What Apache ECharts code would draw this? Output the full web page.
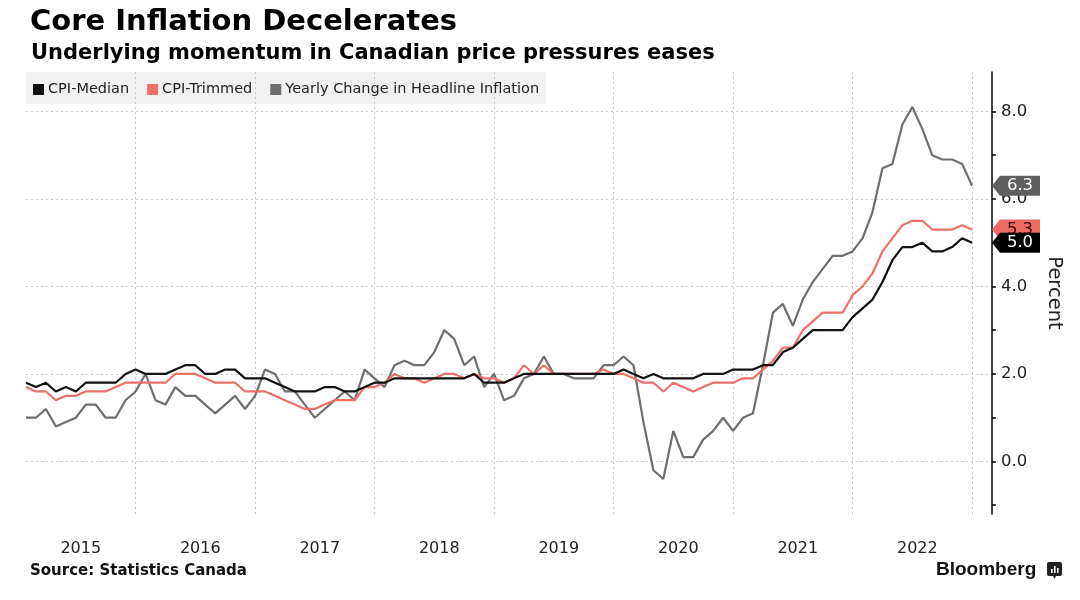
<!DOCTYPE html>
<html>
<head>
<meta charset="utf-8">
<title>Core Inflation Decelerates</title>
<script src="https://cdn.jsdelivr.net/npm/echarts@6/dist/echarts.min.js"></script>
<style>
  html, body { margin: 0; padding: 0; background: #fff; }
  #chart { width: 1080px; height: 600px; }
</style>
</head>
<body>
<div id="chart"></div>
<script>
// monthly readings Jan 2015 .. Dec 2022, plotted at month end (month no. 1 = Jan 2015)
var yearLabels = ['2015', '2016', '2017', '2018', '2019', '2020', '2021', '2022'];

var cpiMedian = [
    1.8, 1.7, 1.8, 1.6, 1.7, 1.6, 1.8, 1.8, 1.8, 1.8, 2.0, 2.1,
    2.0, 2.0, 2.0, 2.1, 2.2, 2.2, 2.0, 2.0, 2.1, 2.1, 1.9, 1.9,
    1.9, 1.8, 1.7, 1.6, 1.6, 1.6, 1.7, 1.7, 1.6, 1.6, 1.7, 1.8,
    1.8, 1.9, 1.9, 1.9, 1.9, 1.9, 1.9, 1.9, 1.9, 2.0, 1.8, 1.8,
    1.8, 1.9, 2.0, 2.0, 2.0, 2.0, 2.0, 2.0, 2.0, 2.0, 2.0, 2.0,
    2.1, 2.0, 1.9, 2.0, 1.9, 1.9, 1.9, 1.9, 2.0, 2.0, 2.0, 2.1,
    2.1, 2.1, 2.2, 2.2, 2.5, 2.6, 2.8, 3.0, 3.0, 3.0, 3.0, 3.3,
    3.5, 3.7, 4.1, 4.6, 4.9, 4.9, 5.0, 4.8, 4.8, 4.9, 5.1, 5.0
];

var cpiTrim = [
    1.7, 1.6, 1.6, 1.4, 1.5, 1.5, 1.6, 1.6, 1.6, 1.7, 1.8, 1.8,
    1.8, 1.8, 1.8, 2.0, 2.0, 2.0, 1.9, 1.8, 1.8, 1.8, 1.6, 1.6,
    1.6, 1.5, 1.4, 1.3, 1.2, 1.2, 1.3, 1.4, 1.4, 1.4, 1.7, 1.7,
    1.8, 2.0, 1.9, 1.9, 1.8, 1.9, 2.0, 2.0, 1.9, 2.0, 1.9, 1.9,
    1.8, 1.9, 2.2, 2.0, 2.2, 2.0, 2.0, 2.0, 2.0, 2.0, 2.1, 2.0,
    2.0, 1.9, 1.8, 1.8, 1.6, 1.8, 1.7, 1.6, 1.7, 1.8, 1.8, 1.8,
    1.9, 1.9, 2.1, 2.3, 2.6, 2.6, 3.0, 3.2, 3.4, 3.4, 3.4, 3.8,
    4.0, 4.3, 4.8, 5.1, 5.4, 5.5, 5.5, 5.3, 5.3, 5.3, 5.4, 5.3
];

var headline = [
    1.0, 1.0, 1.2, 0.8, 0.9, 1.0, 1.3, 1.3, 1.0, 1.0, 1.4, 1.6,
    2.0, 1.4, 1.3, 1.7, 1.5, 1.5, 1.3, 1.1, 1.3, 1.5, 1.2, 1.5,
    2.1, 2.0, 1.6, 1.6, 1.3, 1.0, 1.2, 1.4, 1.6, 1.4, 2.1, 1.9,
    1.7, 2.2, 2.3, 2.2, 2.2, 2.5, 3.0, 2.8, 2.2, 2.4, 1.7, 2.0,
    1.4, 1.5, 1.9, 2.0, 2.4, 2.0, 2.0, 1.9, 1.9, 1.9, 2.2, 2.2,
    2.4, 2.2, 0.9, -0.2, -0.4, 0.7, 0.1, 0.1, 0.5, 0.7, 1.0, 0.7,
    1.0, 1.1, 2.2, 3.4, 3.6, 3.1, 3.7, 4.1, 4.4, 4.7, 4.7, 4.8,
    5.1, 5.7, 6.7, 6.8, 7.7, 8.1, 7.6, 7.0, 6.9, 6.9, 6.8, 6.3
];

var yLabelValues = [0, 2, 4, 6, 8];
var yTickValues = [-1, 0, 1, 2, 3, 4, 5, 6, 7, 8];

var xMin = 1, xMax = 98;
var yMin = -1.2, yMax = 8.9;
var FONT = '"DejaVu Sans", Verdana, sans-serif';

function toPairs(arr) {
    return arr.map(function (v, i) { return [i + 1, v]; });
}

// year boundaries (end of December) and mid-year label spots
var yearEnds = yearLabels.map(function (y, i) { return (i + 1) * 12; });
var yearMids = yearLabels.map(function (y, i) { return i * 12 + 6.5; });

function flag(arr, color, textColor, z) {
    var last = arr[arr.length - 1];
    return {
        symbol: 'path://M0,10L8,0L48,0L48,20L8,20Z',
        symbolSize: [48, 20],
        symbolOffset: [24, 0],
        z: z,
        itemStyle: { color: color },
        label: {
            show: true, position: 'inside', offset: [4, 0],
            color: textColor, fontSize: 16.5, fontFamily: FONT,
            formatter: function (p) { return p.value.toFixed(1); }
        },
        data: [{ coord: [xMax, last], value: last }]
    };
}

function lineSeries(name, arr, color, flagColor, flagText, z) {
    return {
        name: name,
        type: 'line',
        data: toPairs(arr),
        showSymbol: false,
        symbol: 'none',
        color: color,
        lineStyle: { width: 2.2, color: color },
        z: z,
        markPoint: flag(arr, flagColor, flagText, z + 5)
    };
}

var chart = echarts.init(document.getElementById('chart'));

chart.setOption({
    animation: false,
    backgroundColor: '#fff',
    title: [
        {
            text: 'Core Inflation Decelerates',
            left: 25, top: 3,
            textStyle: { fontFamily: FONT, fontSize: 29, fontWeight: 'bold', color: '#000' }
        },
        {
            text: 'Underlying momentum in Canadian price pressures eases',
            left: 26, top: 38,
            textStyle: { fontFamily: FONT, fontSize: 21, fontWeight: 'bold', color: '#000' }
        }
    ],
    legend: {
        left: 26, top: 73,
        padding: [9, 8, 9, 7],
        itemGap: 18,
        itemWidth: 11, itemHeight: 11,
        icon: 'rect',
        textStyle: { fontFamily: FONT, fontSize: 14.5, color: '#222', padding: [0, 0, 0, -1] },
        data: ['CPI-Median', 'CPI-Trimmed', 'Yearly Change in Headline Inflation']
    },
    grid: { left: 26, right: 88, top: 72, bottom: 86 },
    xAxis: {
        type: 'value',
        min: xMin, max: xMax,
        axisLine: { show: false },
        axisTick: { show: false, customValues: yearEnds },
        splitLine: { show: true, lineStyle: { color: '#c8c8c8', type: [2, 3], width: 1 } },
        axisLabel: {
            customValues: yearMids,
            margin: 27,
            fontFamily: FONT, fontSize: 16, color: '#222',
            formatter: function (v) { return yearLabels[Math.floor(v / 12)]; }
        }
    },
    yAxis: [
        {
            type: 'value',
            position: 'right',
            min: yMin, max: yMax,
            axisLine: { show: true, lineStyle: { color: '#000', width: 1.5 } },
            axisTick: { show: true, customValues: yTickValues, length: 4, lineStyle: { color: '#000', width: 1.5 } },
            axisLabel: {
                customValues: yLabelValues,
                margin: 9,
                fontFamily: FONT, fontSize: 16.5, color: '#222',
                formatter: function (v) { return v.toFixed(1); }
            },
            splitLine: { show: false },
            name: 'Percent',
            nameLocation: 'middle',
            nameRotate: -90,
            nameGap: 52,
            nameTextStyle: { fontFamily: FONT, fontSize: 19.5, color: '#222' }
        },
        {
            type: 'value',
            position: 'right',
            min: yMin, max: yMax,
            axisLine: { show: false },
            axisTick: { show: false, customValues: yLabelValues },
            axisLabel: { show: false },
            splitLine: { show: true, lineStyle: { color: '#c8c8c8', type: [2, 3], width: 1 } }
        }
    ],
    series: [
        lineSeries('Yearly Change in Headline Inflation', headline, '#6e6e6e', '#5f5f5f', '#fff', 3),
        lineSeries('CPI-Trimmed', cpiTrim, '#ec7068', '#ec6a62', '#3a0000', 4),
        lineSeries('CPI-Median', cpiMedian, '#111111', '#000000', '#fff', 5)
    ],
    graphic: [
        {
            type: 'rect', z: -10,
            shape: { x: 26, y: 72, width: 520, height: 32 },
            style: { fill: '#f1f1f1' }
        },
        {
            type: 'text', left: 30, top: 564,
            style: { text: 'Source: Statistics Canada', font: 'bold 15px ' + FONT, fill: '#111' }
        },
        {
            type: 'text', left: 936, top: 560,
            style: { text: 'Bloomberg', font: 'bold 19px "Liberation Sans", Arial, sans-serif', fill: '#111' }
        },
        {
            type: 'group', left: 1047, top: 562,
            children: [
                { type: 'rect', shape: { x: 0, y: 0, width: 15, height: 14, r: 2 }, style: { fill: '#222' } },
                { type: 'polygon', shape: { points: [[6, 14], [9, 14], [7.5, 17]] }, style: { fill: '#222' } },
                { type: 'rect', shape: { x: 4, y: 7, width: 1.6, height: 4 }, style: { fill: '#fff' } },
                { type: 'rect', shape: { x: 7, y: 4, width: 1.6, height: 7 }, style: { fill: '#fff' } },
                { type: 'rect', shape: { x: 10, y: 6, width: 1.6, height: 5 }, style: { fill: '#fff' } }
            ]
        }
    ]
});
</script>
</body>
</html>
